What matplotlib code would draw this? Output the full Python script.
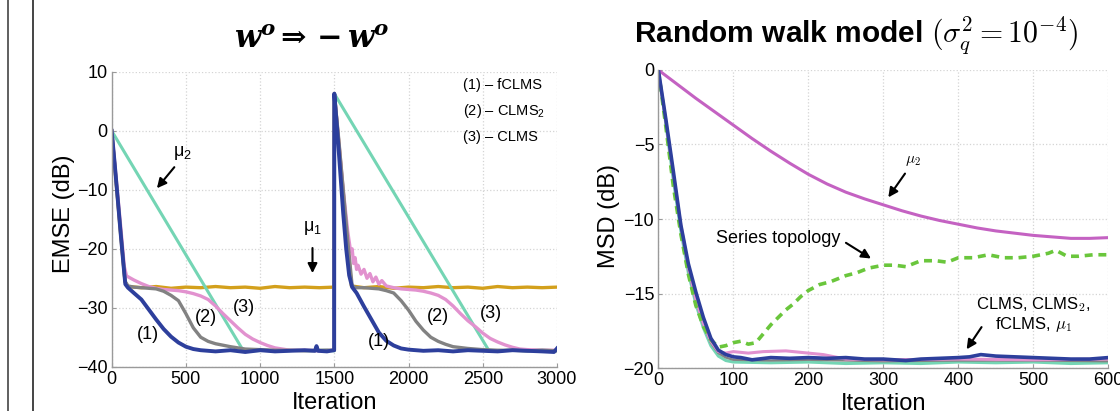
import matplotlib
matplotlib.use("Agg")
import matplotlib.pyplot as plt
from matplotlib.lines import Line2D

plt.rcParams['font.family'] = ['Liberation Sans', 'DejaVu Sans']
plt.rcParams['mathtext.fontset'] = 'custom'
plt.rcParams['mathtext.rm'] = 'Liberation Sans'
plt.rcParams['mathtext.it'] = 'Liberation Sans:italic'
plt.rcParams['mathtext.bf'] = 'DejaVu Serif:italic:bold'

# ---- EMSE curves, weight flip at iteration 1500 ----
mu2_it = [0, 885, 950, 1050, 1150, 1250, 1350, 1450, 1499,
          1500, 2540, 2600, 2700, 2800, 2900, 3000]
mu2_db = [0, -37.2, -37.3, -37.2, -37.3, -37.2, -37.3, -37.2, -37.3,
          6.3, -37.2, -37.3, -37.2, -37.3, -37.2, -37.3]

mu1_it = [0, 30, 60, 90, 110, 200, 300, 400, 500, 600, 700, 800, 900, 1000,
          1100, 1200, 1300, 1400, 1499,
          1500, 1530, 1560, 1590, 1615, 1700, 1800, 1900, 2000, 2100, 2200,
          2300, 2400, 2500, 2600, 2700, 2800, 2900, 3000]
mu1_db = [0, -8.7, -17.4, -25.6, -26.4, -26.6, -26.4, -26.7, -26.5, -26.6, -26.4,
          -26.6, -26.5, -26.7, -26.4, -26.6, -26.5, -26.6, -26.5,
          6.3, -2.0, -10.5, -19.0, -26.3, -26.6, -26.4, -26.7, -26.5, -26.6,
          -26.4, -26.6, -26.5, -26.7, -26.4, -26.6, -26.5, -26.6, -26.5]

clms2_it = [0, 30, 60, 90, 110, 150, 200, 250, 300, 350, 400, 450, 500, 550,
            600, 650, 700, 800, 900, 1000, 1100, 1200, 1300, 1400, 1499,
            1500, 1530, 1560, 1590, 1620, 1650, 1700, 1750, 1800, 1850, 1900,
            1950, 2000, 2050, 2100, 2150, 2200, 2250, 2300, 2400, 2500, 2600,
            2700, 2800, 2900, 3000]
clms2_db = [0, -8.5, -17.0, -25.5, -26.3, -26.5, -26.6, -26.7, -26.8, -27.2,
            -27.9, -28.8, -31.0, -33.4, -35.0, -35.7, -36.1, -36.6, -37.0,
            -37.1, -37.2, -37.2, -37.3, -37.2, -37.2,
            6.3, -1.5, -10.0, -18.5, -26.3, -26.6, -26.6, -26.7, -26.8, -27.1,
            -27.5, -28.8, -30.4, -32.3, -33.8, -35.0, -35.7, -36.2, -36.6,
            -36.9, -37.1, -37.2, -37.2, -37.3, -37.2, -37.3]

clms_it = [0, 30, 60, 85, 100, 150, 200, 250, 300, 350, 400, 450, 500, 550,
           600, 650, 700, 750, 800, 850, 900, 950, 1000, 1050, 1100, 1150,
           1200, 1300, 1400, 1499,
           1500, 1530, 1560, 1590, 1610, 1620, 1630, 1640, 1650, 1660, 1680,
           1700, 1720, 1740, 1760, 1780, 1800, 1820, 1850, 1900, 1950, 2000,
           2050, 2100, 2150, 2200, 2250, 2300, 2350, 2400, 2450, 2500, 2550,
           2600, 2650, 2700, 2750, 2800, 2900, 3000]
clms_db = [0, -8.0, -16.0, -23.0, -24.6, -25.3, -25.9, -26.4, -26.7, -26.9,
           -27.0, -27.1, -27.3, -27.6, -28.0, -28.6, -29.7, -31.0, -32.2,
           -33.4, -34.5, -35.3, -35.9, -36.4, -36.8, -37.0, -37.2, -37.2,
           -37.3, -37.2,
           6.3, -1.8, -10.0, -17.0, -20.5, -20.0, -22.5, -21.5, -23.5, -22.8,
           -24.3, -23.5, -25.0, -24.2, -25.6, -24.8, -26.0, -25.4, -26.3,
           -26.6, -26.8, -26.9, -27.0, -27.2, -27.5, -27.9, -28.6, -29.7,
           -31.0, -32.2, -33.2, -34.3, -35.2, -35.8, -36.3, -36.7, -37.0,
           -37.1, -37.2, -37.2]

fclms_it = [0, 20, 40, 60, 80, 92, 110, 150, 200, 250, 300, 350, 400, 450,
            500, 550, 600, 700, 800, 900, 1000, 1100, 1200, 1300, 1370, 1380,
            1390, 1450, 1499,
            1500, 1520, 1540, 1560, 1580, 1600, 1620, 1650, 1700, 1750, 1800,
            1850, 1900, 1950, 2000, 2100, 2200, 2300, 2400, 2500, 2600, 2700,
            2800, 2900, 2980, 3000]
fclms_db = [0, -5.5, -11.3, -17.2, -22.8, -26.0, -26.6, -27.5, -28.6, -30.3,
            -32.0, -33.6, -34.9, -35.9, -36.6, -37.0, -37.2, -37.4, -37.2,
            -37.5, -37.2, -37.4, -37.3, -37.2, -37.3, -36.5, -37.3, -37.4,
            -37.2,
            6.3, 0.0, -7.0, -14.0, -20.0, -24.5, -26.5, -27.5, -29.8, -32.0,
            -34.2, -35.6, -36.4, -36.9, -37.1, -37.3, -37.2, -37.4, -37.2,
            -37.3, -37.4, -37.2, -37.3, -37.4, -37.5, -36.9]

# ---- MSD curves, random walk model ----
rw_mu2_it = [0, 25, 50, 75, 100, 125, 150, 175, 200, 225, 250, 275, 300, 325,
             350, 375, 400, 425, 450, 475, 500, 525, 550, 575, 600]
rw_mu2_db = [0, -0.95, -1.9, -2.8, -3.7, -4.6, -5.45, -6.25, -7.0, -7.65,
             -8.2, -8.65, -9.05, -9.45, -9.8, -10.1, -10.35, -10.6, -10.8,
             -10.95, -11.1, -11.2, -11.3, -11.3, -11.25]

series_it = [0, 10, 20, 30, 40, 50, 60, 70, 80, 90, 100, 110, 120, 130, 140,
             150, 160, 170, 180, 190, 200, 215, 230, 250, 265, 280, 300, 315,
             330, 350, 370, 385, 400, 420, 440, 460, 480, 500, 520, 530, 545,
             560, 580, 600]
series_db = [0, -3.8, -7.8, -11.0, -13.7, -15.8, -17.2, -18.1, -18.6, -18.5,
             -18.3, -18.2, -18.4, -18.3, -17.7, -17.1, -16.6, -16.1, -15.7,
             -15.2, -14.8, -14.4, -14.2, -13.8, -13.6, -13.3, -13.1, -13.1,
             -13.2, -12.8, -12.8, -12.9, -12.6, -12.6, -12.4, -12.6, -12.6,
             -12.5, -12.3, -12.1, -12.5, -12.5, -12.4, -12.4]

rw_mu1_it = [0, 10, 20, 30, 40, 50, 60, 70, 80, 90, 100, 150, 200, 250, 300,
             350, 400, 450, 500, 550, 600]
rw_mu1_db = [0, -3.6, -7.4, -10.8, -13.6, -15.7, -17.3, -18.5, -19.2, -19.5,
             -19.6, -19.65, -19.6, -19.7, -19.65, -19.7, -19.6, -19.65, -19.6,
             -19.7, -19.65]

rw_clms2_it = [0, 10, 20, 30, 40, 50, 60, 70, 80, 90, 100, 150, 200, 300,
               400, 500, 600]
rw_clms2_db = [0, -3.5, -7.2, -10.6, -13.4, -15.5, -17.1, -18.3, -19.0, -19.3,
               -19.45, -19.5, -19.45, -19.55, -19.5, -19.5, -19.55]

rw_clms_it = [0, 10, 20, 30, 40, 50, 60, 70, 80, 90, 100, 120, 140, 170, 200,
              220, 250, 300, 400, 500, 600]
rw_clms_db = [0, -3.4, -7.0, -10.4, -13.2, -15.4, -17.0, -18.2, -18.9, -19.0,
              -18.9, -19.0, -18.9, -18.85, -19.0, -19.1, -19.4, -19.45, -19.4,
              -19.45, -19.4]

rw_fclms_it = [0, 10, 20, 30, 40, 50, 60, 70, 80, 90, 100, 110, 125, 150, 175,
               200, 225, 250, 275, 300, 330, 350, 375, 400, 415, 430, 450, 475,
               500, 525, 550, 575, 600]
rw_fclms_db = [0, -3.3, -6.8, -10.4, -13.0, -14.9, -16.6, -18.0, -18.8, -19.1,
               -19.25, -19.3, -19.45, -19.3, -19.35, -19.3, -19.35, -19.3,
               -19.4, -19.4, -19.5, -19.4, -19.35, -19.3, -19.25, -19.1, -19.2,
               -19.25, -19.3, -19.35, -19.4, -19.4, -19.3]

c_blue = '#2d3f9c'
c_teal = '#74d5b4'
c_gold = '#d3a01c'
c_gray = '#828282'
c_pink = '#e292cf'
c_magenta = '#c462c2'
c_green = '#6ac63c'


def style_axes(ax):
    for side in ['top', 'right']:
        ax.spines[side].set_visible(False)
    for side in ['left', 'bottom']:
        ax.spines[side].set_color('#9a9a9a')
        ax.spines[side].set_linewidth(1.0)
    ax.tick_params(direction='in', length=3, width=0.8, color='#9a9a9a',
                   labelsize=13, pad=3)
    ax.grid(True, linestyle=':', color='#d4d4d4', linewidth=0.9)
    ax.set_axisbelow(True)


fig = plt.figure(figsize=(11.2, 4.11), dpi=100)

# page edge lines on the left
fig.add_artist(Line2D([0.0075, 0.0075], [0, 1], color='#444444', lw=1.2,
                      transform=fig.transFigure))
fig.add_artist(Line2D([0.0295, 0.0295], [0, 1], color='#444444', lw=1.4,
                      transform=fig.transFigure))

# ---------- left panel ----------
ax1 = fig.add_axes([0.0997, 0.1077, 0.3976, 0.7175])
style_axes(ax1)
ax1.plot(mu1_it, mu1_db, color=c_gold, lw=2.4)
ax1.plot(mu2_it, mu2_db, color=c_teal, lw=2.2)
ax1.plot(clms_it, clms_db, color=c_pink, lw=2.4)
ax1.plot(clms2_it, clms2_db, color=c_gray, lw=2.4)
ax1.plot(fclms_it, fclms_db, color=c_blue, lw=2.8)
ax1.set_xlim(0, 3000)
ax1.set_ylim(-40, 10)
ax1.set_xticks([0, 500, 1000, 1500, 2000, 2500, 3000])
ax1.set_yticks([-40, -30, -20, -10, 0, 10])
ax1.set_yticklabels(['\u221240', '\u221230', '\u221220', '\u221210', '0', '10'])
ax1.set_xlabel('Iteration', fontsize=17)
ax1.xaxis.set_label_coords(0.5, -0.085)
ax1.set_ylabel('EMSE (dB)', fontsize=17)
ax1.yaxis.set_label_coords(-0.083, 0.52)

ax1.text(2367, 7.7, '(1) \u2013 fCLMS', fontsize=10.5, va='center')
ax1.text(2367, 3.3, '(2) \u2013 CLMS$_2$', fontsize=10.5, va='center')
ax1.text(2367, -1.1, '(3) \u2013 CLMS', fontsize=10.5, va='center')

ax1.annotate('', xy=(293, -10.1), xytext=(434, -5.8),
             arrowprops=dict(arrowstyle='-|>', color='black', lw=1.5,
                             mutation_scale=14))
ax1.text(480, -3.8, r'$\mathrm{\mu_2}$', fontsize=13, ha='center', va='center')
ax1.annotate('', xy=(1353, -24.6), xytext=(1353, -19.4),
             arrowprops=dict(arrowstyle='-|>', color='black', lw=1.5,
                             mutation_scale=14))
ax1.text(1353, -16.5, r'$\mathrm{\mu_1}$', fontsize=13, ha='center', va='center')

for x, y, s in [(247, -34.6, '(1)'), (637, -31.7, '(2)'), (888, -30.0, '(3)'),
                (1801, -35.8, '(1)'), (2196, -31.5, '(2)'), (2556, -31.0, '(3)')]:
    ax1.text(x, y, s, fontsize=13, ha='center', va='center')

fig.text(0.278, 0.903, r'$\mathbf{w^o \Rightarrow -w^o}$', fontsize=22,
         ha='center', va='center', math_fontfamily='custom')

# ---------- right panel ----------
ax2 = fig.add_axes([0.5878, 0.1046, 0.4018, 0.7251])
style_axes(ax2)
ax2.plot(rw_mu1_it, rw_mu1_db, color=c_teal, lw=2.2)
ax2.plot(rw_clms2_it, rw_clms2_db, color=c_gray, lw=1.6)
ax2.plot(rw_clms_it, rw_clms_db, color=c_pink, lw=2.2)
ax2.plot(series_it, series_db, color=c_green, lw=2.6, linestyle=(0, (2.2, 1.6)))
ax2.plot(rw_mu2_it, rw_mu2_db, color=c_magenta, lw=2.2)
ax2.plot(rw_fclms_it, rw_fclms_db, color=c_blue, lw=2.6)
ax2.set_xlim(0, 600)
ax2.set_ylim(-20, 0)
ax2.set_xticks([0, 100, 200, 300, 400, 500, 600])
ax2.set_yticks([-20, -15, -10, -5, 0])
ax2.set_yticklabels(['\u221220', '\u221215', '\u221210', '\u22125', '0'])
ax2.set_xlabel('Iteration', fontsize=17)
ax2.xaxis.set_label_coords(0.5, -0.083)
ax2.set_ylabel('MSD (dB)', fontsize=17)
ax2.yaxis.set_label_coords(-0.085, 0.51)

ax2.text(339, -6.1, r'$\mu_2$', fontsize=11, ha='center', va='center',
         math_fontfamily='cm')
ax2.annotate('', xy=(304.5, -8.7), xytext=(331, -6.8),
             arrowprops=dict(arrowstyle='-|>', color='black', lw=1.5,
                             mutation_scale=14))
ax2.text(160, -11.3, 'Series topology', fontsize=13, ha='center', va='center')
ax2.annotate('', xy=(286.7, -12.75), xytext=(247, -11.5),
             arrowprops=dict(arrowstyle='-|>', color='black', lw=1.5,
                             mutation_scale=14))
ax2.text(500, -16.4, 'CLMS, CLMS$_2$,\nfCLMS, $\\mu_1$', fontsize=12,
         ha='center', va='center', linespacing=1.1, math_fontfamily='cm')
ax2.annotate('', xy=(409, -18.9), xytext=(433, -17.1),
             arrowprops=dict(arrowstyle='-|>', color='black', lw=1.5,
                             mutation_scale=14))

fig.text(0.764, 0.913, r'Random walk model $(\sigma_q^2 = 10^{-4})$',
         fontsize=21.5, fontweight='bold', ha='center', va='center',
         math_fontfamily='cm')

fig.savefig('out.png', dpi=100)
